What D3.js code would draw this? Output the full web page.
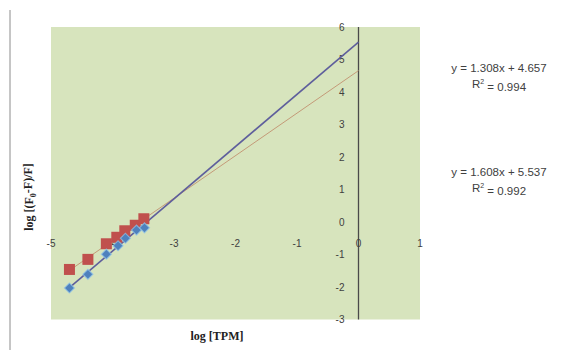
<!DOCTYPE html>
<html>
<head>
<meta charset="utf-8">
<script src="https://cdn.jsdelivr.net/npm/d3@7"></script>
<style>
  body { margin: 0; background: #fff; }
</style>
</head>
<body>
<script>
// squares series (red)
const redX = [-4.70, -4.40, -4.10, -3.93, -3.80, -3.63, -3.49];
const redY = [-1.46, -1.15, -0.67, -0.47, -0.27, -0.10, 0.10];
// diamonds series (blue)
const blueX = [-4.70, -4.40, -4.10, -3.91, -3.79, -3.61, -3.48];
const blueY = [-2.03, -1.61, -0.99, -0.73, -0.50, -0.25, -0.18];
// trendlines (slope, intercept)
const redFit = { m: 1.308, b: 4.657, r2: "0.994" };
const blueFit = { m: 1.608, b: 5.537, r2: "0.992" };
const xTicks = [-5, -4, -3, -2, -1, 0, 1];
const yTicks = [-3, -2, -1, 0, 1, 2, 3, 4, 5, 6];

const width = 572, height = 350;
const sans = "Liberation Sans, Arial, sans-serif";
const serif = "Liberation Serif, Times New Roman, serif";

const svg = d3.select("body").append("svg")
    .attr("width", width)
    .attr("height", height);

const x = d3.scaleLinear().domain([-5, 1]).range([51, 420]);
const y = d3.scaleLinear().domain([-3, 6]).range([319.5, 27]);

// left border line of the frame
svg.append("line")
    .attr("x1", 10).attr("x2", 10)
    .attr("y1", 10).attr("y2", 350)
    .attr("stroke", "#8c8c8c").attr("stroke-width", 1);

// plot area
svg.append("rect")
    .attr("x", x(-5)).attr("y", y(6))
    .attr("width", x(1) - x(-5)).attr("height", y(-3) - y(6))
    .attr("fill", "#d7e4bd");

// vertical axis at x = 0
svg.append("line")
    .attr("x1", x(0)).attr("x2", x(0))
    .attr("y1", y(6)).attr("y2", y(-3))
    .attr("stroke", "#4a4a4a").attr("stroke-width", 1.3);

// y tick labels
svg.append("g")
    .style("font", `10px ${sans}`)
    .selectAll("text")
    .data(yTicks)
    .join("text")
    .attr("x", x(0) - 14)
    .attr("y", d => y(d))
    .attr("dy", "0.35em")
    .attr("text-anchor", "end")
    .attr("fill", "#404040")
    .text(d => d);

// x tick labels
svg.append("g")
    .style("font", `10px ${sans}`)
    .selectAll("text")
    .data(xTicks)
    .join("text")
    .attr("x", d => x(d))
    .attr("y", y(0) + 21)
    .attr("dy", "0.35em")
    .attr("text-anchor", "middle")
    .attr("fill", "#404040")
    .text(d => d);

// trendlines, forecast forward to x = 0
const fitLine = (f) => [[-4.70, f.m * -4.70 + f.b], [0, f.b]];
const line = d3.line().x(d => x(d[0])).y(d => y(d[1]));

svg.append("path")
    .attr("d", line(fitLine(redFit)))
    .attr("fill", "none")
    .attr("stroke", "#c49a78")
    .attr("stroke-width", 1);

svg.append("path")
    .attr("d", line(fitLine(blueFit)))
    .attr("fill", "none")
    .attr("stroke", "#5e5e9c")
    .attr("stroke-width", 1.6);

// red squares
svg.append("g")
    .selectAll("rect")
    .data(d3.zip(redX, redY))
    .join("rect")
    .attr("x", d => x(d[0]) - 5.5)
    .attr("y", d => y(d[1]) - 5.5)
    .attr("width", 11).attr("height", 11)
    .attr("fill", "#c0504d");

// blue diamonds
svg.append("g")
    .selectAll("path")
    .data(d3.zip(blueX, blueY))
    .join("path")
    .attr("transform", d => `translate(${x(d[0])},${y(d[1])}) rotate(45)`)
    .attr("d", d3.symbol().type(d3.symbolSquare).size(50))
    .attr("fill", "#4f81bd")
    .attr("stroke", "#8fc3e8")
    .attr("stroke-width", 1.2)
    .attr("stroke-opacity", 0.7);

// trendline equations
const eq = svg.append("g")
    .style("font", `11.5px ${sans}`)
    .attr("fill", "#404040")
    .attr("text-anchor", "middle");

function label(f, cy) {
    eq.append("text").attr("x", 499).attr("y", cy)
        .attr("dy", "0.35em")
        .text(`y = ${f.m.toFixed(3)}x + ${f.b.toFixed(3)}`);
    const t = eq.append("text").attr("x", 499).attr("y", cy + 16).attr("dy", "0.35em");
    t.append("tspan").text("R");
    t.append("tspan").style("font-size", "7px").attr("dy", "-0.6em").text("2");
    t.append("tspan").attr("dy", "0.6em").text(" = " + f.r2);
}
label(redFit, 68);
label(blueFit, 172);

// axis titles
svg.append("text")
    .attr("x", 217).attr("y", 336)
    .attr("dy", "0.35em")
    .attr("text-anchor", "middle")
    .style("font", `bold 12px ${serif}`)
    .attr("fill", "#222")
    .text("log [TPM]");

const yt = svg.append("text")
    .attr("transform", "translate(29,197) rotate(-90)")
    .attr("text-anchor", "middle")
    .attr("dy", "0.35em")
    .style("font", `bold 12px ${serif}`)
    .attr("fill", "#222");
yt.append("tspan").text("log [(F");
yt.append("tspan").style("font-size", "8px").attr("dy", "0.3em").text("0");
yt.append("tspan").attr("dy", "-0.3em").text("-F)/F]");
</script>
</body>
</html>
